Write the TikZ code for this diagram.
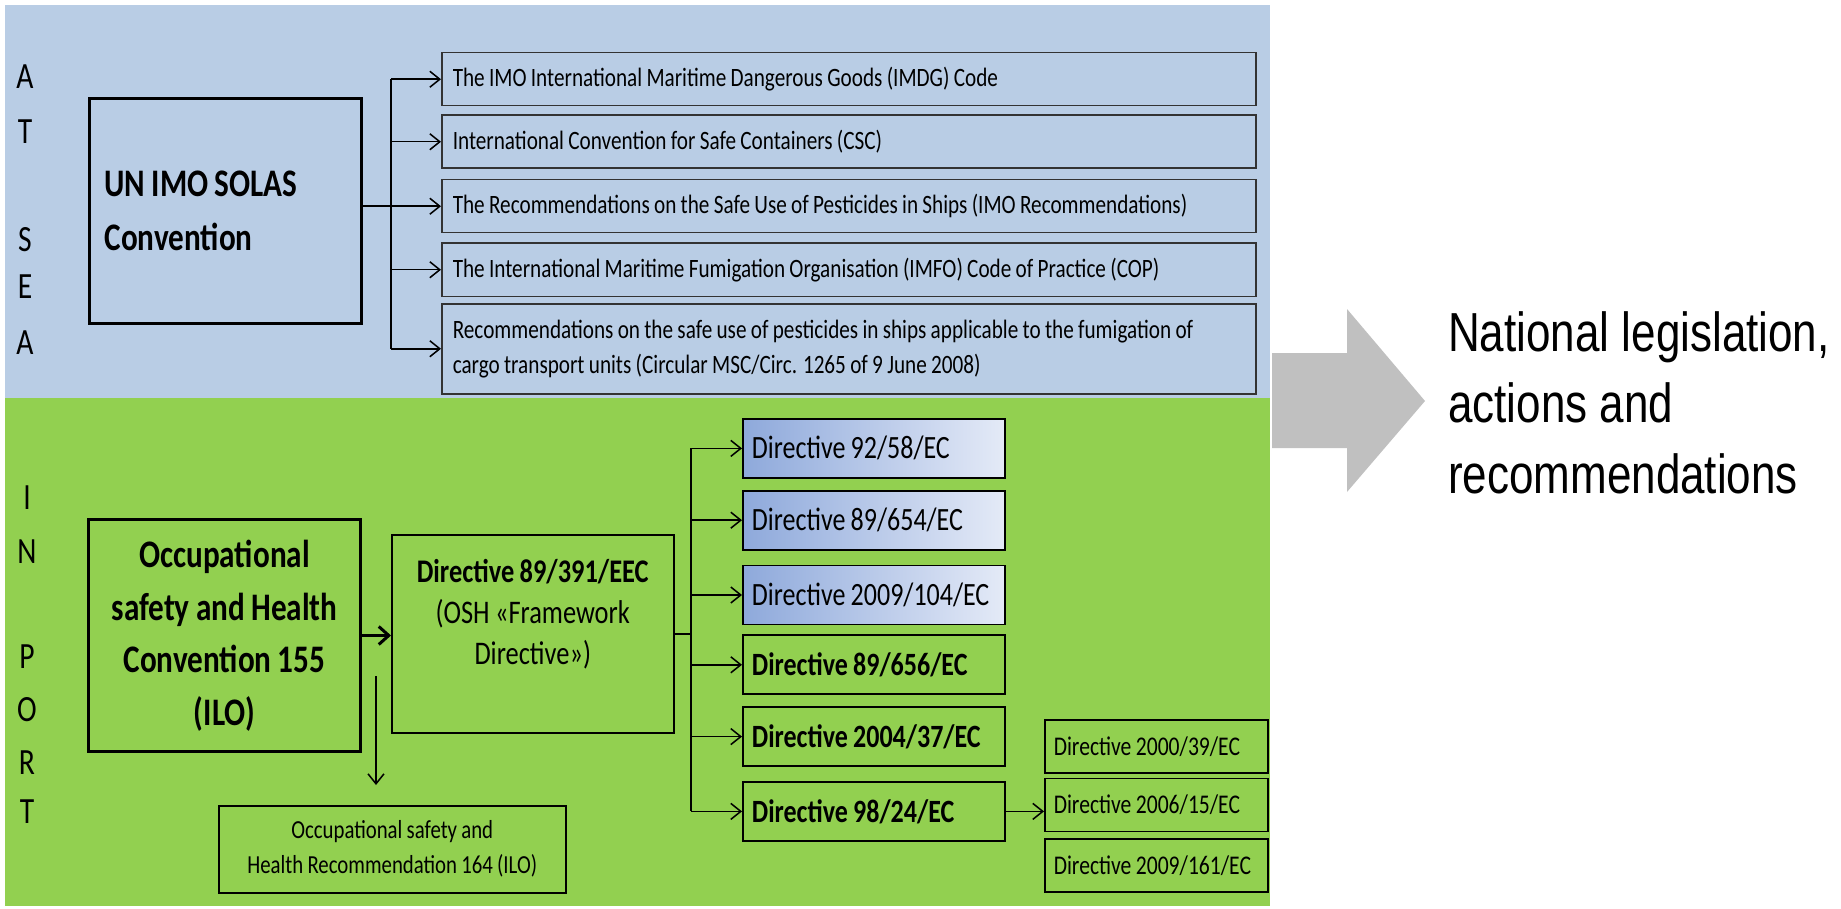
\documentclass[tikz,border=0pt]{standalone}
\usepackage{fontspec}
\setmainfont{Carlito}[FakeStretch=0.8, WordSpace=0.9]
\newfontfamily\arialfont{Liberation Sans}[FakeStretch=0.8]
\usetikzlibrary{arrows.meta, positioning}

\definecolor{seablue}{HTML}{B9CDE5}
\definecolor{portgreen}{HTML}{92D050}
\definecolor{dirdark}{RGB}{142,169,219}
\definecolor{dirlight}{RGB}{228,234,247}
\definecolor{bigarrow}{HTML}{C0C0C0}

\newcommand{\tightspaces}{\spaceskip=0pt\relax\xspaceskip=0pt\relax}

\tikzstyle{plainsp}  = [execute at begin node=\tightspaces]
\tikzstyle{letter}   = [inner sep=0pt, font=\fontsize{37}{40}\selectfont]
\tikzstyle{sea}      = [rectangle, draw=black!80, line width=1.5pt, fill=seablue,
                        minimum height=53pt, text width=792pt, inner xsep=11pt,
                        align=left, plainsp, font=\fontsize{26.5}{35}\selectfont]
\tikzstyle{mainbox}  = [rectangle, draw=black, line width=3pt, inner xsep=15pt]
\tikzstyle{frame}    = [rectangle, draw=black, line width=1.5pt]
\tikzstyle{dirbox}   = [rectangle, draw=black, line width=1.8pt, minimum height=59pt,
                        text width=244pt, inner xsep=9pt, align=left, plainsp,
                        font=\fontsize{32.5}{40}\selectfont]
\tikzstyle{dirshade} = [dirbox, left color=dirdark, right color=dirlight]
\tikzstyle{dirbold}  = [dirbox, fill=portgreen, font=\bfseries\fontsize{32.5}{40}\selectfont]
\tikzstyle{subdir}   = [rectangle, draw=black, line width=1.5pt, minimum height=53pt,
                        text width=205pt, inner xsep=9pt, align=left, plainsp,
                        font=\fontsize{27}{32}\selectfont]
\tikzstyle{conn}     = [line width=1.5pt]
\tikzstyle{arrow}    = [line width=1.5pt, -{Straight Barb[length=10pt, width=16pt]}]
\tikzstyle{bigline}  = [line width=3pt, -{Straight Barb[length=10pt, width=18pt]}]

\begin{document}
\begin{tikzpicture}[x=1pt, y=-1pt]
  \useasboundingbox (0,0) rectangle (1841,909);

  % --- backgrounds ---
  \fill[seablue]   (5,5)   rectangle (1270,398);
  \fill[portgreen] (5,398) rectangle (1270,906);

  % --- At sea ---
  \foreach \ltr/\ypos [count=\i] in {A/77, T/132, S/240, E/287, A/343}
    \node (atsea\i) [letter] at (25,\ypos) {\ltr};

  \node (unimo) [mainbox, anchor=north west, minimum width=272pt, minimum height=225pt,
                 text width=242pt, align=left, plainsp, font=\bfseries\fontsize{39}{54}\selectfont]
                 at (88,97) {UN IMO SOLAS\\Convention};

  \node (imo1) [sea, anchor=north west] at (441,52)
               {The IMO International Maritime Dangerous Goods (IMDG) Code};
  \node (imo2) [sea, below=8pt of imo1]
               {International Convention for Safe Containers (CSC)};
  \node (imo3) [sea, below=10pt of imo2]
               {The Recommendations on the Safe Use of Pesticides in Ships (IMO Recommendations)};
  \node (imo4) [sea, below=9pt of imo3]
               {The International Maritime Fumigation Organisation (IMFO) Code of Practice (COP)};
  \node (imo5) [sea, below=6pt of imo4, minimum height=90pt]
               {Recommendations on the safe use of pesticides in ships applicable to the fumigation of\\
                cargo transport units (Circular MSC/Circ. 1265 of 9 June 2008)};

  \coordinate (seafork) at (391,0);
  \draw[conn]  (seafork |- imo1.west) -- (seafork |- imo5.west);
  \draw[arrow] (unimo.east |- imo3.west) -- (imo3.west);
  \foreach \i in {1,2,4,5}
    \draw[arrow] (seafork |- imo\i.west) -- (imo\i.west);

  % --- In port ---
  \foreach \ltr/\ypos [count=\i] in {I/498, N/552, P/657, O/710, R/763, T/812}
    \node (inport\i) [letter] at (27,\ypos) {\ltr};

  \node (osh) [mainbox, anchor=north west, minimum width=272pt, minimum height=232pt,
               align=center, font=\bfseries\fontsize{39}{52.5}\selectfont]
               at (87,518) {Occupational\\safety and Health\\Convention 155\\(ILO)};
  \node (fwdir) [frame, anchor=north west, minimum width=282pt, minimum height=198pt,
                 text depth=44pt, align=center, font=\fontsize{33}{41}\selectfont]
                 at (391,534) {\textbf{Directive 89/391/EEC}\\(OSH «Framework\\Directive»)};
  \node (rec) [frame, anchor=north west, minimum width=347pt, minimum height=87pt,
               align=center, font=\fontsize{26}{35}\selectfont]
               at (218,805) {Occupational safety and\\Health Recommendation 164 (ILO)};

  \draw[bigline] (osh.east) -- (fwdir.west |- osh.east);
  \coordinate (recfrom) at (376,676);
  \coordinate (recto)   at (376,785);
  \draw[arrow] (recfrom) -- (recto);

  \node (dir1) [dirshade, anchor=north west] at (742,418) {Directive 92/58/EC};
  \node (dir2) [dirshade, below=11pt of dir1] {Directive 89/654/EC};
  \node (dir3) [dirshade, below=14pt of dir2] {Directive 2009/104/EC};
  \node (dir4) [dirbold,  below=9pt of dir3]  {Directive 89/656/EC};
  \node (dir5) [dirbold,  below=11pt of dir4] {Directive 2004/37/EC};
  \node (dir6) [dirbold,  below=14pt of dir5] {Directive 98/24/EC};

  \coordinate (portfork) at (691,0);
  \draw[conn] (fwdir.east) -- (portfork |- fwdir.east);
  \draw[conn] (portfork |- dir1.west) -- (portfork |- dir6.west);
  \foreach \i in {1,...,6}
    \draw[arrow] (portfork |- dir\i.west) -- (dir\i.west);

  \node (sub1) [subdir, anchor=north west] at (1044,719) {Directive 2000/39/EC};
  \node (sub2) [subdir, below=4pt of sub1] {Directive 2006/15/EC};
  \node (sub3) [subdir, below=6pt of sub2] {Directive 2009/161/EC};
  \draw[arrow] (dir6.east) -- (sub2.west |- dir6.east);

  % --- outcome ---
  \fill[bigarrow] (1272,353) -- (1347,353) -- (1347,309) -- (1425,401)
                  -- (1347,492) -- (1347,448) -- (1272,448) -- cycle;
  \node (natl) [anchor=north west, inner sep=0pt, align=left, plainsp,
                font=\arialfont\fontsize{55}{71}\selectfont]
                at (1448,311) {National legislation,\\actions and\\recommendations};

\end{tikzpicture}
\end{document}
